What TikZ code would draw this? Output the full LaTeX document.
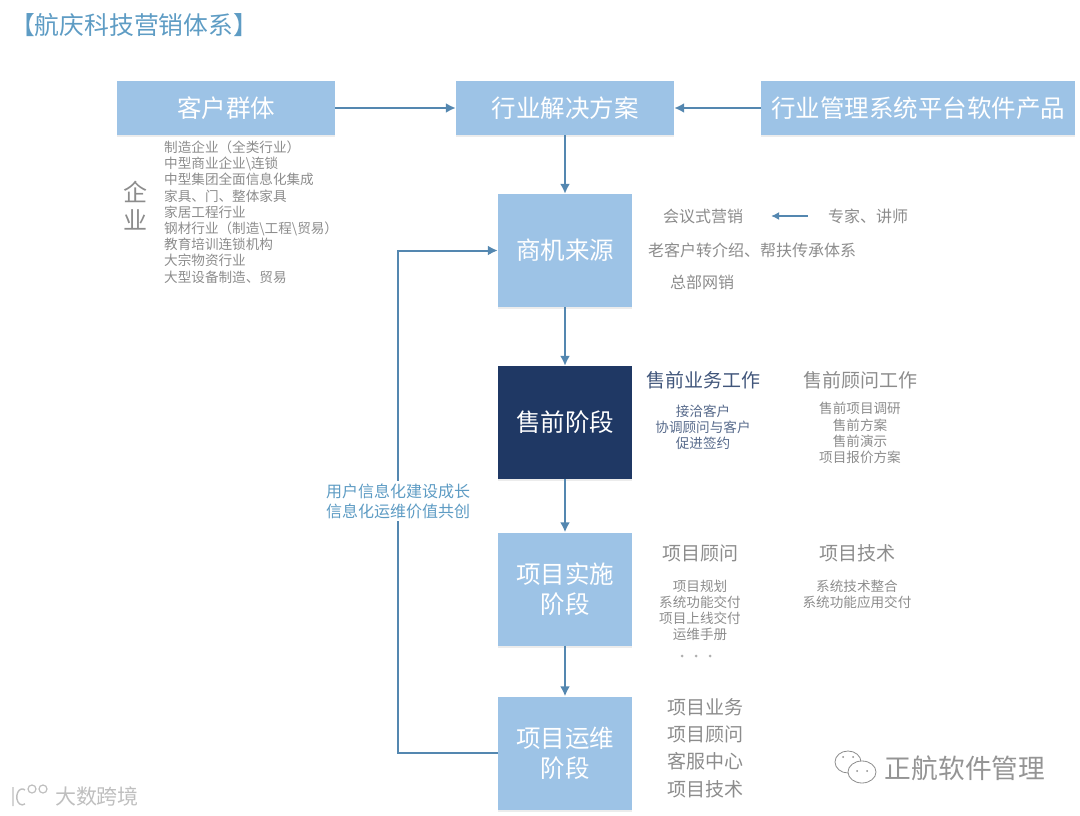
\documentclass[tikz,border=0pt]{standalone}
\usepackage{fontspec}
\setmainfont{Noto Sans CJK SC}
\usetikzlibrary{shadows,arrows.meta,calc}
\definecolor{boxblue}{HTML}{9DC3E6}
\definecolor{boxdark}{HTML}{1F3864}
\definecolor{linkblue}{HTML}{5487B0}
\definecolor{textgrey}{HTML}{8C8C8C}
\definecolor{titleblue}{HTML}{5E9CC4}
\newcommand{\fs}[2]{\fontsize{#1}{#2}\selectfont}
\tikzstyle{box}=[fill=boxblue,text=white,inner sep=0pt,align=center,font=\fs{24.5}{30},drop shadow={opacity=0.15,shadow xshift=0pt,shadow yshift=-2pt}]
\tikzstyle{stagebox}=[box,minimum width=134pt,minimum height=113pt]
\tikzstyle{link} = [draw,line width=2pt,linkblue,-{Latex[length=10pt,width=10pt]}]
\tikzstyle{note} = [text=textgrey,inner sep=0pt,align=center,font=\fs{16}{20}]
\tikzstyle{headnote} = [note,font=\fs{19}{24}]
\tikzstyle{smallnote} = [note,font=\fs{13.6}{16.2}]
\tikzstyle{pagemark} = [text=black!42,inner sep=0pt]

\begin{document}
\begin{tikzpicture}[x=1pt,y=-1pt]
   \useasboundingbox (0,0) rectangle (1080,816);

   \node[inner sep=0pt,text=titleblue,font=\fs{24.8}{30}] (title) at (134,25) {【航庆科技营销体系】};

   % top row
   \foreach \pos/ \name/ \wid/ \txt in {{(226,108)/kehu/218/客户群体},{(565,108)/hangye/218/行业解决方案},{(918,108)/chanpin/314/行业管理系统平台软件产品}}
        \node[box,minimum width=\wid pt,minimum height=54pt] (\name) at \pos {\txt};

   % stages
   \foreach \pos/ \name/ \txt in {{(565,250.5)/shangji/商机来源},{(565,589)/shishi/项目实施\\阶段},{(565,753)/yunwei/项目运维\\阶段}}
        \node[stagebox] (\name) at \pos {\txt};
   \node[stagebox,fill=boxdark] (shouqian) at (565,422.5) {售前阶段};

   % connect boxes
   \foreach \source/ \dest in {kehu/hangye,chanpin/hangye,hangye/shangji,shangji/shouqian,shouqian/shishi,shishi/yunwei}
        \path[link] (\source) -- (\dest);
   \coordinate (turn) at (398,753);
   \path[link] (yunwei.west) -- (turn) |- (shangji.west);

   \node[note,text=titleblue,font=\fs{16}{20},fill=white,inner ysep=2pt] (growth) at (398,501) {用户信息化建设成长\\信息化运维价值共创};

   % customers
   \node[note,font=\fs{24}{28}] (qiye) at (135.5,206) {企\\业};
   \node[smallnote,align=left,anchor=west] (hangyelist) at (164,212) {制造企业（全类行业）\\中型商业企业\textbackslash 连锁\\中型集团全面信息化集成\\家具、门、整体家具\\家居工程行业\\钢材行业（制造\textbackslash 工程\textbackslash 贸易）\\教育培训连锁机构\\大宗物资行业\\大型设备制造、贸易};

   % notes next to the stages
   \foreach \pos/ \name/ \txt in {{(703,216)/huiyi/会议式营销},{(868,216)/zhuanjia/专家、讲师},{(752,250)/laokehu/老客户转介绍、帮扶传承体系},{(702,282)/wangxiao/总部网销}}
        \node[note] (\name) at \pos {\txt};
   \path[draw,line width=1.2pt,linkblue,-{Latex[length=8pt,width=8pt]},shorten >=28pt,shorten <=20pt] (zhuanjia) -- (huiyi);

   \node[headnote,text=boxdark!85] (yewu) at (703,380) {售前业务工作};
   \node[headnote] (guwen) at (860,380) {售前顾问工作};
   \node[smallnote,text=boxdark!75] (yewulist) at (703,427) {接洽客户\\协调顾问与客户\\促进签约};
   \node[smallnote] (guwenlist) at (860,433) {售前项目调研\\售前方案\\售前演示\\项目报价方案};

   \node[headnote] (xmguwen) at (700,553) {项目顾问};
   \node[headnote] (xmjishu) at (857,553) {项目技术};
   \node[smallnote] (xmguwenlist) at (700,610.5) {项目规划\\系统功能交付\\项目上线交付\\运维手册};
   \node[smallnote] (xmjishulist) at (857,594) {系统技术整合\\系统功能应用交付};
   \foreach \x/ \name in {682/dota,696/dotb,710/dotc}
        \node[circle,fill=textgrey!70,inner sep=0pt,minimum size=3pt] (\name) at (\x,656) {};

   \node[headnote,font=\fs{19}{27.4}] (yunweilist) at (705,748) {项目业务\\项目顾问\\客服中心\\项目技术};

   % marks of the page
   \node[pagemark,font=\fs{26.7}{30}] (zhenghang) at (965,768) {正航软件管理};
   \draw[black!45,line width=0.8pt] (848,762) ellipse (13pt and 11pt);
   \draw[black!45,line width=0.8pt,fill=white] (862,772) ellipse (14pt and 11pt);
   \foreach \x/ \y in {843/757,853/757,857/771,867/771}
        \fill[black!45] (\x,\y) circle (1pt);
   \node[pagemark,text=black!25,font=\fs{21}{24}] (dashuju) at (97,796) {大数跨境};
   \draw[black!25,line width=1.4pt] (13,787) -- (13,806) (25,790) arc (60:300:5.5pt and 8pt);
   \draw[black!25,line width=1.2pt] (32,789) circle (4pt) (43,789) circle (4pt);

\end{tikzpicture}
\end{document}
